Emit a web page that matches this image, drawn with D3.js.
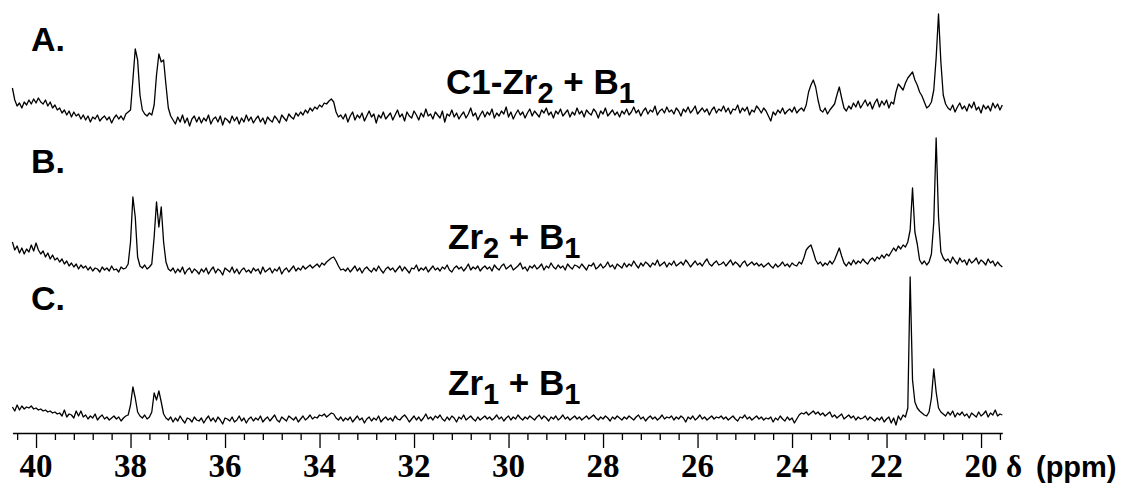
<!DOCTYPE html>
<html>
<head>
<meta charset="utf-8">
<script src="https://cdnjs.cloudflare.com/ajax/libs/d3/7.8.5/d3.min.js"></script>
<style>
  body { margin: 0; background: #fff; }
  svg { display: block; }
</style>
</head>
<body>
<div class="container"></div>
<script>

// spectra sampled every 0.05 ppm, starting at 40.50 ppm and going upfield
const ppmStart = 40.5;
const ppmStep = 0.05;

const panelLetters = ["A.", "B.", "C."];
const sampleNames = [
    ["C1-Zr", "2", " + B", "1"],
    ["Zr", "2", " + B", "1"],
    ["Zr", "1", " + B", "1"]
];

const majorTicks = [40, 38, 36, 34, 32, 30, 28, 26, 24, 22, 20];
const tickLabels = ["40", "38", "36", "34", "32", "30", "28", "26", "24", "22", "20"];

// A. C1-Zr2 + B1
const specA = [
    32, 20, 14, 17, 12, 18, 15, 20, 16, 21, 17, 22, 18, 16, 20, 14, 18, 12, 15, 10,
    12, 7, 10, 5, 9, 3, 8, 4, 6, 1, 5, 0, 4, -2, 3, 1, 5, -1, 2, 4,
    0, 3, -3, 2, 5, 1, 4, 0, 6, 8,
    10, 40, 71, 60, 25, 10, 6, 4, 7, 5, 15, 45, 66, 58, 60, 35, 12, 4,
    0, -4, 3, -2, 5, -3, 2, -6, 1, 4, -2, 3,
    -3, 2, -1, 5, -4, 1, 3, -2, 4, -5, 2, 0, -3, 4, -1, 3, -4, 2, -2, 5,
    -1, 3, -3, 1, 4, -2, 2, -4, 3, 0, -2, 4, 1, -3, 5, 2, -1, 6, 3, 1, 7, 4,
    8, 5, 10, 7, 12, 9, 13, 11, 15, 13, 17, 16, 19, 21, 18, 8, 3, 5,
    1, 6, -2, 4, 8, 0, 5, 2, 7, -1, 4, 9, 3, 6, -3, 5, 2, 8, 1, 4,
    7, 0, 5, 10, 3, 6, -1, 8, 4, 2, 9, 5, 0, 7, 3, 11, 4, 6, 1, 8,
    5, 2, 9, -2, 6, 4, 10, 3, 7, 1, 5, 8, 2, 6, 12, 4, 7, 0, 5, 9,
    3, 8, 5, 11, 2, 7, 4, 9, 6, 13, 3, 8, 1, 6, 10, 5, 8, 2, 7, 11,
    4, 9, 6, 3, 10, 7, 12, 5, 8, 2, 9, 6, 11, 4, 7, 10, 3, 8, 5, 12,
    6, 9, 3, 10, 7, 5, 11, 8, 2, 9, 6, 12, 4, 7, 10, 5, 8, 3, 9, 6,
    11, 5, 8, 13, 7, 10, 4, 9, 12, 6, 10, 8, 14, 5, 9, 11, 7, 13, 8, 10,
    6, 12, 9, 4, 11, 8, 13, 7, 10, 14, 6, 9, 12, 8, 11, 5, 10, 13, 7, 11,
    9, 14, 8, 12, 6, 11, 10, 15, 7, 12, 9, 13, 5, 10, 8, 14, 11, 7, 12, 9,
    4, -1, 8, 5, 10, 7, 12, 6, 9, 11, 8, 13, 7, 10, 12, 9,
    15, 28, 35, 40, 33, 20, 10,
    8, 12, 6, 10, 13,
    16, 25, 33, 22, 12,
    9, 14, 11, 17, 13, 19, 12, 16, 20, 14, 18, 11, 17, 21, 13, 19, 15, 20, 12, 18, 16,
    28, 36, 33, 30, 37, 42, 45, 48, 40, 35, 28, 24, 18, 12, 14,
    18, 30, 62, 106, 58, 25, 16, 12,
    10, 15, 8, 13, 17, 11, 14, 9, 16, 12, 18, 10, 13, 7, 15, 11, 14, 9, 17, 12, 16, 10, 15
];

// B. Zr2 + B1
const specB = [
    30, 22, 26, 19, 24, 18, 23, 20, 27, 21, 29, 22, 18, 21, 15, 19, 13, 17, 12, 14,
    10, 13, 8, 11, 6, 9, 5, 8, 3, 7, 4, 6, 2, 5, 1, 4, 3, 0, 5, 2,
    4, 1, 6, 2, 3, 0, 5, 3, 4,
    8, 30, 75, 55, 15, 6, 4, 7, 3, 5, 8, 35, 70, 45, 65, 30, 10, 3,
    1, 4, -1, 3, 0, 5, -2, 2, 4, -1, 3, 1, -2,
    3, 0, 4, -2, 2, 5, -1, 3, 1, -3, 4, 2, 0, 5, -1, 3, -2, 2, 4, 0,
    2, -1, 4, 1, 3, -2, 5, 0, 2, 4, -1, 3, 1, 5, -2, 2, 4, 0, 3, 6, 1, 4, 2, 6, 3, 5, 7, 4,
    6, 8, 5, 9, 7, 10, 12, 14, 15, 11, 6, 2, 3, 1,
    4, 0, 3, 6, 1, 4, -1, 3, 5, 2, 0, 4, 1, 6, 2, -1, 3, 5,
    2, 4, 0, 3, 6, 1, 5, 2, -1, 4, 3, 7, 1, 4, 2, 5, 0, 3, 6, 2,
    4, 1, 5, 3, 7, 2, 0, 4, 6, 3, 5, 1, 4, 8, 2, 5, 3, 6, 1, 4,
    6, 3, 5, 1, 7, 4, 2, 6, 8, 3, 5, 7, 2, 4, 6, 9, 3, 5, 1, 6,
    4, 7, 3, 5, 8, 2, 6, 4, 9, 5, 3, 7, 4, 6, 2, 8, 5, 3, 7, 6,
    4, 8, 5, 2, 7, 6, 9, 3, 5, 8, 4, 6, 10, 5, 7, 3, 8, 6, 4, 9,
    5, 8, 6, 11, 7, 4, 9, 6, 10, 8, 5, 9, 7, 12, 6, 8, 10, 5, 9, 7,
    11, 6, 8, 10, 7, 12, 9, 5, 8, 11, 7, 9, 6, 10, 13, 8, 6, 9, 11, 7,
    8, 10, 6, 9, 12, 7, 10, 8, 5, 9, 11, 6, 8, 10, 7, 9, 6, 8, 5, 7,
    9, 6, 4, 8, 5, 7, 10, 6, 8, 5, 9, 7, 6, 10, 8,
    14, 22, 25, 27, 20, 12, 8,
    10, 6, 9, 7, 11, 8,
    12, 18, 24, 16, 9,
    6, 10, 7, 12, 8, 11, 9, 13, 10, 8, 12, 14, 11, 15, 13, 17, 14, 18, 16,
    20, 24, 21, 26, 23, 27, 25,
    30, 42, 84, 40, 28, 12, 8, 11, 7,
    10, 18, 50, 134, 55, 20, 14, 11,
    13, 9, 15, 11, 8, 14, 10, 12, 7, 13, 9, 11, 14, 8, 12, 10, 7, 13, 9, 11, 6, 10, 7, 5
];

// C. Zr1 + B1
const specC = [
    13, 9, 15, 10, 14, 11, 13, 12, 14, 11, 12, 10, 11, 9, 10, 8, 9, 7, 8, 6,
    7, 4, 10, 3, 6, 5, 2, 9, 4, 9, 3, 5, 1, 4, 2, 6, 0, 3, 5, 1,
    3, 0, 2, 4, 1, 3, -1, 2, 4,
    5, 15, 33, 22, 8, 4, 2, 5, 1, 3, 8, 27, 20, 29, 18, 6, 2,
    0, 3, -2, 2, -1, 4, 0, -3, 2, 1, -2, 3, 0, -1,
    2, -3, 1, 4, -1, 2, -2, 3, 0, -4, 2, 1, -1, 3, -2, 0, 4, -1, 2, -3,
    1, 3, -1, 2, 0, 4, -2, 1, 3, -1, 2, 5, 0, -2, 3, 1, -1, 4, 2, 0, 3, -2, 1, 4, 0, 2, 5, 1,
    3, 2, 5, 4, 6, 3, 5, 7, 6, 2, 0, 3, -1, 2,
    0, 3, -2, 1, 4, 0, 2, -3, 1, 3, -1, 2, 0, 4, -2, 1, 3, 0,
    2, -1, 4, 1, 0, 3, 5, 2, -2, 1, 4, 0, 3, -1, 2, 6, 1, 3, 0, 4,
    2, 5, 1, -1, 3, 0, 4, 2, -2, 3, 1, 5, 0, 2, 4, 1, -1, 3, 0, 2,
    4, 1, 3, 0, 2, 5, 1, 3, -1, 2, 4, 0, 3, 1, 5, 2, 0, 3, 1, 4,
    2, 0, 3, 5, 1, 4, 2, -1, 3, 1, 4, 0, 2, 5, 1, 3, 0, 2, 4, 1,
    3, 0, 2, 4, 1, 3, 5, 2, 0, 3, 1, 4, 2, -1, 3, 1, 4, 2, 0, 3,
    1, 4, 2, 0, 3, 5, 1, 3, -1, 2, 4, 1, 3, 0, 2, 5, 1, 3, 2, 4,
    0, 3, 1, 4, 2, -2, 3, 1, 4, 0, 2, 5, 1, 3, 0, 2, 4, 1, 3, 2,
    4, 1, 3, 0, 2, 4, 1, -1, 3, 2, 5, 1, 3, 0, 2, 4, 1, 3, 0, 2,
    1, 3, -2, 2, 0, 4, 1, -1, 3, 0, 2, -3, 1, 5, 7, 6, 8, 5, 7, 9,
    6, 8, 5, 7, 4, 6, 8, 3, 5, 2, 4, 6, 1, 3, 5, 2, 4, 0, 3, 1,
    2, 4, 0, 3, 1, -1, 2, 0, 3, -2, 1,
    3, -3, 2, -5, 4, 0, 5, 3,
    12, 143, 40, 18, 12, 9, 7, 5, 4,
    8, 22, 51, 28, 12, 8, 6,
    4, 8, 5, 9, 3, 7, 5, 8, 4, 6, 2, 7, 5, 3, 8, 4, 6, 9, 3, 7, 5, 10, 4, 6, 5
];

const spectra = [specA, specB, specC];

const width = 1128;
const height = 488;
const axisY = 433;
// zero line of each trace on the page
const traceBase = [120, 272, 420];

const SERIF = "Liberation Serif";
const SANS = "Liberation Sans";

const svg = d3.select(".container").append("svg")
    .attr("width", width)
    .attr("height", height);

const xScale = d3.scaleLinear()
    .domain([40.5, 19.55])
    .range([12.4, 1002.3]);

spectra.forEach((spec, k) => {
    const yScale = d3.scaleLinear()
        .domain([0, 150])
        .range([traceBase[k], traceBase[k] - 150]);

    const line = d3.line()
        .x((d, i) => xScale(ppmStart - i * ppmStep))
        .y(d => yScale(d));

    svg.append("path")
        .datum(spec)
        .attr("d", line)
        .attr("fill", "none")
        .attr("stroke", "#000")
        .attr("stroke-width", 1.3)
        .attr("stroke-linejoin", "round");
});

// panel letters
const letterY = [51, 173, 310];
svg.selectAll(".panel")
    .data(panelLetters)
    .enter()
    .append("text")
    .attr("class", "panel")
    .attr("x", 31)
    .attr("y", (d, i) => letterY[i])
    .style("font-family", SANS)
    .style("font-weight", "bold")
    .style("font-size", "34px")
    .text(d => d);

// sample names with subscripts
const nameX = [446, 448, 448];
const nameY = [94, 249, 395];
sampleNames.forEach((parts, i) => {
    const t = svg.append("text")
        .attr("x", nameX[i])
        .attr("y", nameY[i])
        .style("font-family", SANS)
        .style("font-weight", "bold")
        .style("font-size", "35px");
    t.append("tspan").text(parts[0]);
    t.append("tspan").style("font-size", "29px").attr("dy", 9).text(parts[1]);
    t.append("tspan").attr("dy", -9).text(parts[2].replace(/ /g, "\u00a0"));
    t.append("tspan").style("font-size", "29px").attr("dy", 9).text(parts[3]);
});

// x axis: long ticks every 2 ppm, short ticks every 0.4 ppm
const minorTicks = d3.range(40.4, 19.5, -0.4)
    .filter(v => Math.abs(v / 2 - Math.round(v / 2)) > 1e-6);

const xAxisMinor = d3.axisBottom(xScale)
    .tickValues(minorTicks)
    .tickSize(7)
    .tickSizeOuter(0)
    .tickFormat("");

const xAxis = d3.axisBottom(xScale)
    .tickValues(majorTicks)
    .tickSize(15)
    .tickSizeOuter(0)
    .tickFormat("");

svg.append("g")
    .attr("transform", `translate(0,${axisY})`)
    .call(xAxisMinor)
    .call(g => g.select(".domain").remove())
    .call(g => g.selectAll("text").remove())
    .selectAll("line").attr("stroke-width", 1.3);

const gx = svg.append("g")
    .attr("id", "x-axis")
    .attr("transform", `translate(0,${axisY})`)
    .call(xAxis)
    .call(g => g.selectAll("text").remove());

gx.select(".domain").attr("stroke-width", 1.6);
gx.selectAll("line").attr("stroke-width", 1.3);

// tick numbers in a serif face
svg.selectAll(".tick-label")
    .data(majorTicks)
    .enter()
    .append("text")
    .attr("class", "tick-label")
    .attr("x", d => xScale(d))
    .attr("y", axisY + 44)
    .attr("text-anchor", "middle")
    .style("font-family", SERIF)
    .style("font-weight", "bold")
    .style("font-size", "33px")
    .text((d, i) => tickLabels[i]);

// unit label
svg.append("text")
    .attr("x", 1006)
    .attr("y", 477)
    .style("font-family", SERIF)
    .style("font-weight", "bold")
    .style("font-size", "31px")
    .text("δ");

svg.append("text")
    .attr("x", 1036)
    .attr("y", 477)
    .style("font-family", SANS)
    .style("font-weight", "bold")
    .style("font-size", "29px")
    .text("(ppm)");

</script>
</body>
</html>
